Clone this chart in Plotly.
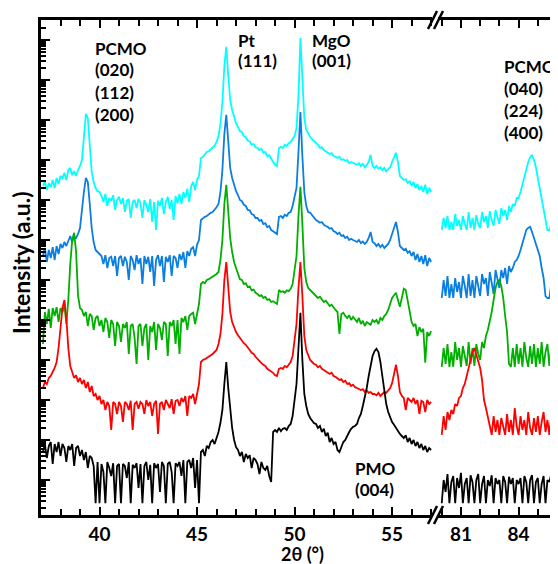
import numpy as np
import plotly.graph_objects as go

# ---- scan grids (2theta, degrees) ----
left_start, left_step, left_n = 37.1, 0.1, 200
right_start, right_step, right_n = 80.0, 0.1, 61
two_theta_left = np.round(left_start + left_step * np.arange(left_n), 2)
two_theta_right = np.round(right_start + right_step * np.arange(right_n), 2)

# ---- log10 intensity (a.u., stacked) ----
cyan_left = [
    7.35, 7.45, 7.25, 7.42, 7.33, 7.5, 7.3, 7.55, 7.4, 7.6,
    7.55, 7.68, 7.5, 7.75, 7.8, 7.62, 7.72, 7.6, 7.75, 7.85,
    8.0, 8.6, 9.15, 9.05, 8.4, 7.7, 7.45, 7.3, 7.22, 7.2,
    7.1, 6.95, 7.15, 6.85, 7.05, 6.98, 7.12, 6.75, 7.0, 7.08,
    6.9, 7.05, 6.7, 6.98, 7.02, 6.55, 6.95, 7.0, 6.8, 7.03,
    6.92, 6.55, 7.0, 6.88, 6.7, 7.02, 6.45, 6.95, 6.25, 6.98,
    6.85, 7.05, 6.65, 6.95, 7.08, 6.78, 7.0, 6.5, 7.1, 6.92,
    7.15, 6.9, 7.2, 7.05, 7.28, 6.95, 7.35, 7.45, 7.25, 7.5,
    7.6, 8.05, 8.08, 8.15, 8.2, 8.22, 8.27, 8.32, 8.36, 8.45,
    8.6, 8.9, 9.45, 10.35, 10.83, 10.1, 9.5, 9.25, 9.05, 8.92,
    8.82, 8.72, 8.7, 8.6, 8.57, 8.48, 8.47, 8.38, 8.4, 8.32,
    8.3, 8.25, 8.28, 8.18, 8.2, 8.1, 8.12, 8.02, 7.95, 7.88,
    7.85, 8.3, 8.33, 8.3, 8.38, 8.35, 8.42, 8.45, 8.52, 8.6,
    8.8, 9.6, 11.05, 10.0, 9.05, 8.75, 8.65, 8.58, 8.52, 8.48,
    8.42, 8.38, 8.3, 8.32, 8.25, 8.22, 8.2, 8.15, 8.17, 8.1,
    8.08, 8.05, 8.08, 8.0, 8.02, 7.98, 8.0, 7.92, 7.95, 7.93,
    7.9, 7.88, 7.92, 7.85, 7.9, 7.82, 7.87, 7.95, 8.13, 7.85,
    7.8, 7.85, 7.78, 7.82, 7.75, 7.8, 7.72, 7.78, 7.82, 7.95,
    8.05, 8.18, 7.95, 7.6, 7.55, 7.5, 7.52, 7.42, 7.48, 7.35,
    7.45, 7.3, 7.4, 7.25, 7.35, 7.2, 7.38, 7.15, 7.3, 7.2,
]
cyan_right = [
    6.25, 6.55, 6.3, 6.6, 6.25, 6.45, 6.25, 6.65, 6.35, 6.5,
    6.25, 6.6, 6.4, 6.25, 6.7, 6.3, 6.55, 6.25, 6.62, 6.4,
    6.3, 6.7, 6.45, 6.6, 6.3, 6.72, 6.5, 6.35, 6.75, 6.55,
    6.4, 6.8, 6.6, 6.75, 6.5, 6.85, 6.7, 6.9, 6.85, 7.05,
    7.05, 7.2, 7.4, 7.6, 7.8, 7.95, 8.07, 8.13, 8.0, 7.82,
    7.55, 7.3, 7.0, 6.75, 6.5, 6.25, 6.25, 6.4, 6.25, 6.3,
    6.5,
]
blue_left = [
    5.6, 5.8, 5.45, 5.75, 5.55, 5.82, 5.5, 5.85, 5.65, 5.9,
    5.8, 5.95, 5.85, 6.0, 6.1, 5.95, 6.08, 6.05, 6.15, 6.3,
    6.8, 7.2, 7.55, 7.45, 6.9, 6.3, 5.95, 5.75, 5.7, 5.65,
    5.6, 5.4, 5.62, 5.3, 5.55, 5.58, 5.35, 5.6, 5.1, 5.55,
    5.6, 5.35, 5.58, 5.45, 5.0, 5.6, 5.5, 5.25, 5.62, 5.4,
    5.55, 4.9, 5.6, 5.4, 5.58, 5.2, 5.6, 4.85, 5.5, 5.62,
    5.35, 5.6, 4.95, 5.58, 5.45, 5.62, 5.1, 5.6, 5.55, 5.3,
    5.65, 5.5, 5.7, 5.3, 5.72, 5.6, 5.78, 5.82, 5.6, 5.88,
    6.0, 6.5, 6.55, 6.58, 6.6, 6.65, 6.68, 6.7, 6.75, 6.82,
    6.9, 7.2, 7.75, 8.65, 9.13, 8.4, 7.8, 7.55, 7.35, 7.22,
    7.12, 7.0, 6.97, 6.88, 6.85, 6.75, 6.74, 6.65, 6.63, 6.55,
    6.55, 6.48, 6.5, 6.4, 6.42, 6.32, 6.35, 6.25, 6.22, 6.18,
    6.15, 6.58, 6.6, 6.55, 6.63, 6.6, 6.68, 6.7, 6.85, 7.08,
    7.3, 8.2, 9.2, 8.1, 7.2, 6.85, 6.7, 6.68, 6.62, 6.58,
    6.5, 6.47, 6.43, 6.45, 6.38, 6.35, 6.33, 6.28, 6.3, 6.22,
    6.2, 6.15, 6.18, 6.1, 6.12, 6.05, 6.08, 6.0, 6.03, 6.0,
    5.98, 5.95, 6.0, 5.92, 5.96, 5.9, 5.95, 6.05, 6.2, 5.95,
    5.92, 5.85, 5.9, 5.82, 5.88, 5.8, 5.85, 5.9, 6.0, 6.15,
    6.3, 6.45, 6.2, 5.85, 5.8, 5.75, 5.78, 5.68, 5.72, 5.6,
    5.7, 5.5, 5.65, 5.45, 5.6, 5.4, 5.62, 5.35, 5.55, 5.45,
]
blue_right = [
    4.55, 5.0, 4.6, 5.1, 4.55, 4.9, 4.55, 5.05, 4.7, 4.95,
    4.55, 5.1, 4.85, 4.55, 5.15, 4.6, 5.0, 4.55, 5.1, 4.8,
    4.6, 5.15, 4.9, 5.05, 4.6, 5.2, 4.95, 4.65, 5.25, 5.0,
    4.8, 5.25, 5.05, 5.3, 4.9, 5.35, 5.2, 5.3, 5.45, 5.5,
    5.6, 5.75, 5.9, 6.1, 6.25, 6.3, 6.33, 6.2, 6.05, 5.9,
    5.8, 5.6, 5.3, 5.05, 4.6, 4.55, 4.55, 4.9, 4.55, 4.6,
    4.85,
]
green_left = [
    3.4, 4.2, 3.9, 4.28, 3.8, 4.3, 4.1, 4.32, 3.95, 4.3,
    4.2, 4.35, 3.9, 4.5, 5.4, 6.0, 6.18, 5.7, 4.6, 4.3,
    4.25, 4.1, 4.2, 3.85, 4.15, 4.1, 3.75, 4.05, 4.1, 3.85,
    4.0, 3.7, 4.05, 3.95, 3.55, 4.0, 3.9, 3.35, 3.95, 3.85,
    3.45, 3.9, 3.8, 3.95, 3.15, 3.85, 3.9, 3.55, 2.9, 3.85,
    3.9, 3.35, 3.8, 3.9, 3.0, 3.85, 3.7, 3.95, 3.25, 3.9,
    3.8, 3.5, 3.95, 3.9, 3.1, 3.95, 3.85, 4.0, 3.4, 4.0,
    3.15, 4.05, 3.95, 4.1, 3.75, 4.1, 4.15, 4.18, 3.9, 4.2,
    4.4, 4.9, 4.95, 4.92, 5.0, 5.02, 5.05, 5.08, 5.1, 5.15,
    5.2, 5.5, 6.0, 6.9, 7.38, 6.65, 6.05, 5.7, 5.45, 5.3,
    5.15, 5.02, 5.0, 4.9, 4.92, 4.82, 4.84, 4.74, 4.76, 4.68,
    4.65, 4.6, 4.62, 4.55, 4.58, 4.5, 4.52, 4.45, 4.47, 4.43,
    4.4, 4.75, 4.7, 4.72, 4.68, 4.74, 4.72, 4.78, 4.9, 5.25,
    5.6, 6.6, 7.33, 6.4, 5.3, 4.95, 4.8, 4.75, 4.7, 4.65,
    4.6, 4.55, 4.58, 4.5, 4.45, 4.48, 4.4, 4.35, 4.38, 4.3,
    4.25, 4.2, 3.65, 4.15, 4.18, 4.1, 4.05, 4.12, 4.0, 4.08,
    4.0, 3.95, 4.05, 3.9, 3.98, 3.85, 3.95, 3.92, 3.88, 4.0,
    3.95, 4.0, 3.9, 4.05, 4.0, 4.1, 4.15, 4.25, 4.4, 4.55,
    4.62, 4.68, 4.5, 4.33, 4.55, 4.78, 4.75, 4.45, 4.15, 3.95,
    3.85, 3.9, 3.6, 3.82, 3.7, 3.78, 2.93, 3.7, 3.6, 3.72,
]
green_right = [
    2.83, 3.3, 2.9, 3.4, 2.83, 3.2, 2.83, 3.45, 3.0, 3.3,
    2.83, 3.35, 3.1, 2.85, 3.45, 2.9, 3.3, 2.85, 3.4, 3.15,
    3.0, 3.45, 3.3, 3.6, 3.75, 3.95, 4.2, 4.5, 4.8, 4.95,
    5.0, 4.85, 4.55, 4.1, 3.7, 2.9, 2.83, 3.3, 2.83, 3.4,
    2.9, 3.3, 2.83, 3.45, 3.05, 2.83, 3.35, 2.9, 3.4, 2.83,
    3.3, 2.9, 3.45, 2.83, 3.2, 3.4, 2.85, 3.35, 3.0, 3.3,
    2.9,
]
red_left = [
    2.3, 2.45, 2.4, 2.55, 2.6, 2.7, 2.8, 2.95, 3.3, 3.8,
    4.3, 4.5, 4.05, 3.3, 2.85, 2.7, 2.55, 2.62, 2.45, 2.55,
    2.4, 2.5, 2.3, 2.45, 2.2, 2.35, 2.1, 2.15, 2.0, 2.1,
    1.9, 2.0, 1.75, 1.95, 1.85, 1.25, 1.95, 1.9, 1.65, 1.95,
    1.85, 1.45, 1.95, 1.9, 1.75, 1.98, 1.25, 1.9, 1.95, 1.78,
    1.95, 1.9, 1.65, 2.0, 1.85, 1.95, 1.6, 1.9, 1.98, 1.15,
    1.9, 1.95, 1.75, 2.0, 1.9, 1.8, 2.02, 1.65, 1.98, 2.0,
    1.85, 2.05, 1.95, 2.1, 1.6, 2.1, 2.05, 2.15, 1.9, 2.18,
    2.4, 2.95, 3.0, 3.02, 3.05, 3.1, 3.12, 3.15, 3.2, 3.25,
    3.4, 3.65, 4.15, 5.0, 5.45, 4.8, 4.2, 3.95, 3.8, 3.7,
    3.62, 3.55, 3.5, 3.42, 3.38, 3.3, 3.25, 3.18, 3.15, 3.08,
    3.02, 2.98, 2.92, 2.88, 2.85, 2.78, 2.75, 2.7, 2.68, 2.62,
    2.6, 2.78, 2.8, 2.78, 2.85, 2.82, 2.9, 2.95, 3.1, 3.5,
    3.9, 4.8, 5.45, 4.6, 3.6, 3.25, 3.1, 3.0, 2.95, 2.9,
    2.88, 2.82, 2.85, 2.78, 2.75, 2.72, 2.7, 2.65, 2.68, 2.6,
    2.58, 2.55, 2.5, 2.52, 2.45, 2.48, 2.4, 2.42, 2.35, 2.38,
    2.32, 2.3, 2.28, 2.25, 2.27, 2.2, 2.24, 2.18, 2.2, 2.15,
    2.15, 2.12, 2.18, 2.1, 2.15, 2.2, 2.18, 2.25, 2.3, 2.42,
    2.7, 2.88, 2.6, 2.2, 2.1, 2.05, 1.75, 2.05, 2.0, 1.95,
    2.05, 1.9, 2.0, 1.65, 1.98, 1.95, 1.7, 2.0, 1.9, 1.95,
]
red_right = [
    1.13, 1.6, 1.25, 1.7, 1.5, 1.75, 1.65, 1.9, 1.85, 2.05,
    2.1, 2.3, 2.4, 2.6, 2.8, 3.0, 3.2, 3.3, 3.15, 2.95,
    2.8, 2.5, 2.0, 1.8, 1.58, 1.4, 1.13, 1.6, 1.2, 1.5,
    1.13, 1.55, 1.3, 1.13, 1.65, 1.2, 1.5, 1.13, 1.8, 1.35,
    1.13, 1.6, 1.25, 1.5, 1.13, 1.7, 1.3, 1.13, 1.55, 1.2,
    1.6, 1.13, 1.45, 1.7, 1.2, 1.5, 1.13, 1.6, 1.3, 1.55,
    1.2,
]
black_left = [
    0.7, 0.9, 0.55, 0.85, 0.95, 0.4, 0.9, 0.7, 0.95, 0.6,
    0.9, 0.8, 0.45, 0.85, 0.75, 0.9, 0.35, 0.8, 0.85, 0.6,
    0.75, 0.5, 0.7, 0.3, 0.6, 0.55, 0.35, -0.58, 0.45, -0.58,
    0.4, 0.2, -0.58, 0.45, 0.3, 0.1, 0.42, -0.58, 0.35, 0.4,
    -0.58, 0.4, 0.35, 0.05, 0.45, -0.58, 0.38, 0.3, 0.42, -0.2,
    0.4, -0.58, 0.35, 0.45, 0.0, 0.38, -0.58, 0.42, 0.3, 0.4,
    -0.3, 0.45, 0.35, -0.58, 0.4, 0.45, 0.2, -0.58, 0.42, 0.35,
    0.45, 0.1, 0.5, -0.58, 0.45, 0.5, 0.3, 0.55, -0.2, 0.5,
    -0.58, 0.7, 0.75, 0.6, 0.85, 0.8, 0.95, 1.0, 0.9, 1.05,
    1.2, 1.43, 1.75, 2.4, 2.95, 2.3, 1.75, 1.3, 1.0, 0.82,
    0.75, 0.6, 0.7, 0.45, 0.65, 0.55, 0.62, 0.3, 0.55, 0.5,
    0.4, 0.15, 0.45, 0.3, 0.25, 0.35, 0.1, -0.05, 1.2, 1.25,
    1.2, 1.3, 1.22, 1.28, 1.3, 1.25, 1.35, 1.4, 1.6, 1.95,
    2.4, 3.3, 4.18, 3.0, 2.15, 1.85, 1.65, 1.55, 1.48, 1.42,
    1.4, 1.3, 1.35, 1.2, 1.28, 1.1, 1.18, 0.95, 1.05, 0.9,
    0.95, 0.75, 0.7, 0.85, 0.95, 1.0, 1.12, 1.2, 1.28, 1.33,
    1.35, 1.4, 1.55, 1.65, 1.85, 2.05, 2.3, 2.6, 2.85, 3.1,
    3.22, 3.28, 3.2, 2.95, 2.6, 2.2, 1.9, 1.7, 1.55, 1.45,
    1.38, 1.3, 1.22, 1.15, 1.1, 1.05, 1.12, 0.95, 1.05, 0.9,
    1.0, 0.85, 0.95, 0.8, 0.9, 0.75, 0.85, 0.7, 0.8, 0.75,
]
black_right = [
    -0.58, 0.0, -0.3, 0.15, -0.58, -0.05, 0.1, -0.58, 0.05, -0.2,
    0.18, -0.58, -0.1, 0.05, -0.58, 0.12, -0.05, -0.58, 0.0, 0.15,
    -0.58, -0.1, 0.1, -0.58, 0.0, -0.15, 0.12, -0.58, 0.05, -0.1,
    0.0, -0.58, 0.1, -0.05, -0.58, 0.08, -0.1, 0.05, -0.58, 0.0,
    -0.1, 0.05, -0.58, 0.1, -0.05, -0.58, 0.0, 0.12, -0.58, -0.05,
    0.05, -0.58, -0.1, 0.1, -0.58, 0.0, -0.05, 0.15, -0.58, 0.0,
    0.2,
]

series_names = ["cyan", "blue", "green", "red", "black"]
series_colors = ["#00FFFF", "#0A7FE0", "#00B000", "#FF0000", "#000000"]
series_left = [cyan_left, blue_left, green_left, red_left, black_left]
series_right = [cyan_right, blue_right, green_right, red_right, black_right]

# peak labels: (lines, x_px, first_line_y_px, line_step_px) in page pixels
peak_labels = [
    (["PCMO", "(020)", "(112)", "(200)"], 93, 48, 22),
    (["Pt", "(111)"], 236, 40, 21),
    (["MgO", "(001)"], 310, 40, 21),
    (["PCMO", "(040)", "(224)", "(400)"], 502, 66, 22.3),
    (["PMO", "(004)"], 353, 468, 21),
]

OFF = 8                      # page body margin offset
W, H = 558, 564
AX_L, AX_R, AX_T, AX_B = 41, 558, 20, 515   # plot area in page pixels
ML = AX_L - OFF
MT = AX_T - OFF
MR = W - (AX_R - OFF)
MB = H - (AX_B - OFF)
PW, PH = W - ML - MR, H - MT - MB
BREAK_PX = 435
split = (BREAK_PX - AX_L) / PW


def px(xp):
    return (xp - AX_L) / PW


def py(yp):
    return (AX_B - yp) / PH


FONT = "Lato"

fig = go.Figure()
for name, col, yl, yr in zip(series_names, series_colors, series_left, series_right):
    fig.add_trace(go.Scatter(x=two_theta_left, y=np.power(10.0, yl), mode="lines",
                             line=dict(color=col, width=1.8), name=name,
                             xaxis="x", yaxis="y", hoverinfo="skip"))
    fig.add_trace(go.Scatter(x=two_theta_right, y=np.power(10.0, yr), mode="lines",
                             line=dict(color=col, width=1.8), name=name,
                             xaxis="x2", yaxis="y", hoverinfo="skip"))

axis_common = dict(
    showline=True, linewidth=3, linecolor="black", mirror="ticks",
    ticks="inside", ticklen=8, tickwidth=2, tickcolor="black",
    showgrid=False, zeroline=False, automargin=False,
    tickfont=dict(family=FONT, size=19, color="black", weight="bold"),
    minor=dict(ticks="inside", ticklen=6, tickwidth=2, tickcolor="black", dtick=1, showgrid=False),
)

fig.update_layout(
    width=W, height=H,
    margin=dict(l=ML, r=MR, t=MT, b=MB, autoexpand=False),
    paper_bgcolor="white", plot_bgcolor="white",
    showlegend=False,
    xaxis=dict(domain=[0, split], range=[37.0, 57.2], tickmode="linear", tick0=40, dtick=5,
               anchor="y", **axis_common),
    xaxis2=dict(domain=[split, 1], range=[79.65, 86.05], tickmode="linear", tick0=81, dtick=3,
                anchor="y", **axis_common),
    yaxis=dict(type="log", range=[-0.875, 11.5], showticklabels=False,
               showline=True, linewidth=3, linecolor="black", mirror=False,
               ticks="inside", ticklen=9, tickwidth=2, tickcolor="black", dtick=1,
               minor=dict(ticks="inside", ticklen=5, tickwidth=1.5, tickcolor="black", showgrid=False),
               showgrid=False, zeroline=False, anchor="x", automargin=False),
)

annotations = []
for lines, x0, y0, step in peak_labels:
    for i, t in enumerate(lines):
        annotations.append(dict(text=t, x=px(x0), y=py(y0 + i * step), xref="paper", yref="paper",
                                xanchor="left", yanchor="middle", showarrow=False,
                                font=dict(family=FONT, size=17, color="black", weight="bold")))
annotations.append(dict(text="Intensity (a.u.)", x=px(21), y=py(263), xref="paper", yref="paper",
                        textangle=-90, showarrow=False, xanchor="center", yanchor="middle",
                        font=dict(family=FONT, size=23, color="black", weight="bold")))
annotations.append(dict(text="2θ (°)", x=px(302), y=py(554), xref="paper", yref="paper",
                        showarrow=False, xanchor="center", yanchor="middle",
                        font=dict(family=FONT, size=18, color="black", weight="bold")))
fig.update_layout(annotations=annotations)

shapes = []
for yc in (515, 20):
    shapes.append(dict(type="rect", xref="paper", yref="paper", x0=px(432), x1=px(438),
                       y0=py(yc + 4), y1=py(yc - 4), fillcolor="white", line=dict(width=0), layer="above"))
    for dx in (0, 6):
        shapes.append(dict(type="line", xref="paper", yref="paper",
                           x0=px(428 + dx), y0=py(yc + 9), x1=px(437 + dx), y1=py(yc - 9),
                           line=dict(color="black", width=2.5), layer="above"))
fig.update_layout(shapes=shapes)

fig.write_html("out.html")
